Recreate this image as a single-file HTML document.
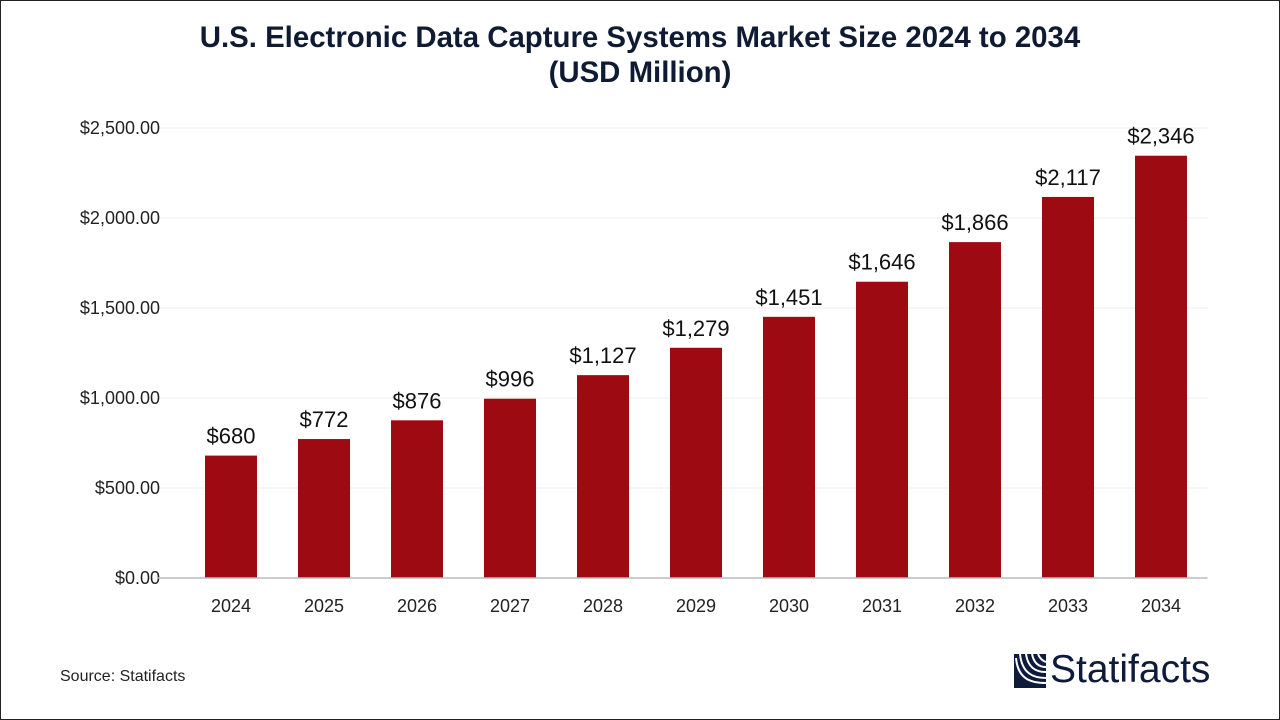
<!DOCTYPE html>
<html><head><meta charset="utf-8"><style>
body{margin:0;width:1280px;height:720px;background:#fff;font-family:"Liberation Sans",sans-serif;overflow:hidden}
#frame{position:absolute;left:0;top:0;width:1278px;height:718px;border:1px solid #222}
#title{position:absolute;top:20px;left:0;width:1280px;text-align:center;font-weight:bold;font-size:29.4px;line-height:35px;color:#0f1b33}
#src{position:absolute;left:60px;top:668px;font-size:16px;color:#222}
#logo{position:absolute;left:1014px;top:654px}
#logotext{position:absolute;left:1050px;top:648px;font-size:39px;color:#0f1b3d;font-weight:500}
</style></head><body>
<div id="frame"></div>
<div id="title">U.S. Electronic Data Capture Systems Market Size 2024 to 2034<br>(USD Million)</div>
<svg id="chart" width="1280" height="720" style="position:absolute;left:0;top:0"></svg>
<div id="src">Source: Statifacts</div>
<svg id="logo" width="32" height="34">
<rect x="0" y="0" width="32" height="34" fill="#0f1b3d"/>
<path d="M12 0 C14 14 22 18 32 18 M18 0 C20 10 26 13 32 13 M24 0 C26 5 29 7 32 8 M6 0 C8 20 20 24 32 24 M2 4 C4 26 18 29 32 29" stroke="#fff" stroke-width="2" fill="none"/>
</svg>
<div id="logotext">Statifacts</div>
<script>
const categories=["2024","2025","2026","2027","2028","2029","2030","2031","2032","2033","2034"];
const values=[680,772,876,996,1127,1279,1451,1646,1866,2117,2346];
const valueLabels=["$680","$772","$876","$996","$1,127","$1,279","$1,451","$1,646","$1,866","$2,117","$2,346"];
const ticks=[0,500,1000,1500,2000,2500];
const tickLabels=["$0.00","$500.00","$1,000.00","$1,500.00","$2,000.00","$2,500.00"];
const svg=document.getElementById('chart');const NS="http://www.w3.org/2000/svg";
const x0=184.5,x1=1207.5,y0=578,yTop=128,maxV=2500;
const y=v=>y0-(v/maxV)*(y0-yTop);
const step=(x1-x0)/categories.length;
const xc=i=>x0+step*(i+0.5);
function mk(t,a){const e=document.createElementNS(NS,t);for(const k in a)e.setAttribute(k,a[k]);svg.appendChild(e);return e;}
ticks.forEach((t,i)=>{
 if(t>0){const g=mk('line',{x1:158,x2:x1,y1:y(t),y2:y(t),stroke:'#ececec','stroke-width':1});
 
 }
 const l=mk('text',{x:160,y:y(t)+6,'text-anchor':'end','font-size':18,fill:'#222'});
 
 
 l.textContent=tickLabels[i];
});
values.forEach((v,i)=>{
 const bw=52;
 const b=mk('rect',{x:xc(i)-bw/2,y:y(v),width:bw,height:y0-y(v),fill:'#9e0a12'});
 
 
 const t=mk('text',{x:xc(i),y:y(v)-12,'text-anchor':'middle','font-size':22,fill:'#111'});
 
 
 t.textContent=valueLabels[i];
 const c=mk('text',{x:xc(i),y:612,'text-anchor':'middle','font-size':18,fill:'#222'});
 
 
 c.textContent=categories[i];
});
const ax=mk('line',{x1:158,x2:x1,y1:y0,y2:y0,stroke:'#bbb','stroke-width':1.5});


</script>
</body></html>
